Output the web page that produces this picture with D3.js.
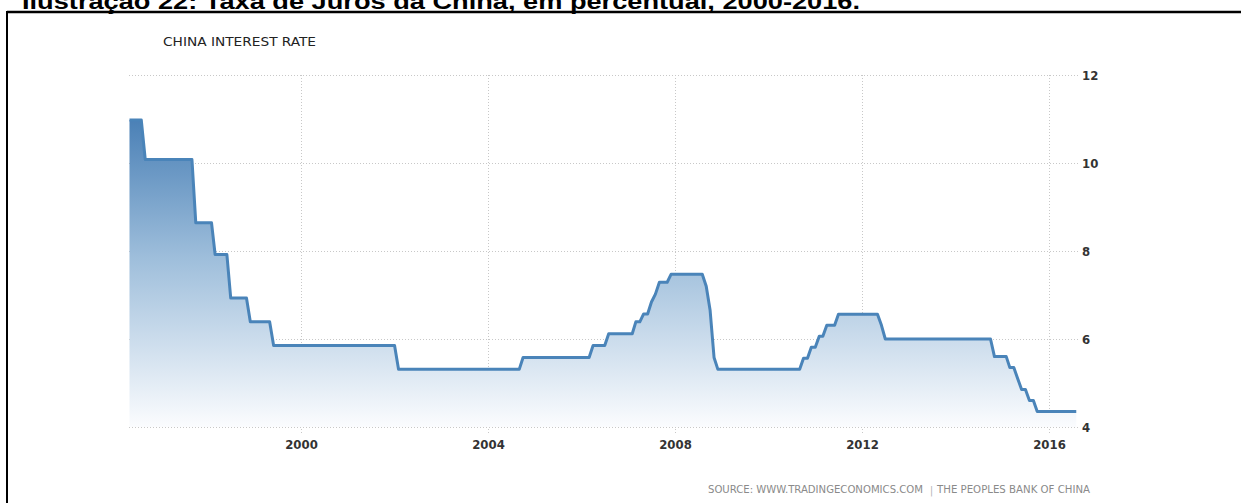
<!DOCTYPE html>
<html>
<head>
<meta charset="utf-8">
<script src="https://cdn.jsdelivr.net/npm/d3@7"></script>
<style>
  html, body { margin: 0; padding: 0; background: #fff; }
  svg { display: block; }
</style>
</head>
<body>
<svg id="chart" width="1241" height="503"></svg>
<script>
// ---- DATA ----
const docTitle = "Ilustração 22: Taxa de Juros da China, em percentual, 2000-2016.";
const chartTitle = "CHINA INTEREST RATE";
const sourceLeft = "SOURCE: WWW.TRADINGECONOMICS.COM";
const sourceRight = "THE PEOPLES BANK OF CHINA";
// month in which a new rate first shows on the chart, and the rate
const changeMonths = ["1996-05","1996-09","1997-10","1998-03","1998-07","1998-12","1999-06",
  "2002-02","2004-10","2006-04","2006-08","2007-03","2007-05","2007-07","2007-08","2007-09",
  "2007-12","2008-09","2008-10","2008-11","2008-12","2010-10","2010-12","2011-02","2011-04",
  "2011-07","2012-06","2012-07","2014-11","2015-03","2015-05","2015-06","2015-08","2015-10"];
const changeRates = [10.98,10.08,8.64,7.92,6.93,6.39,5.85,
  5.31,5.58,5.85,6.12,6.39,6.57,6.84,7.02,7.29,
  7.47,7.20,6.66,5.58,5.31,5.56,5.81,6.06,6.31,
  6.56,6.31,6.00,5.60,5.35,5.10,4.85,4.60,4.35];
const lastMonth = "2016-08";
const yTicks = [4, 6, 8, 10, 12];
const xTickYears = [2000, 2004, 2008, 2012, 2016];

// ---- build monthly series (rate in effect each month) ----
const parseM = d3.timeParse("%Y-%m");
const changes = changeMonths.map((m, i) => ({ date: parseM(m), value: changeRates[i] }));
const months = d3.timeMonth.range(changes[0].date, d3.timeMonth.offset(parseM(lastMonth), 1));
const series = months.map(dt => {
  let v = changes[0].value;
  for (const c of changes) { if (c.date <= dt) v = c.value; }
  return { date: dt, value: v };
});

// ---- layout ----
const svg = d3.select("#chart");
const x = d3.scaleTime()
  .domain([new Date(2000, 0, 1), new Date(2016, 0, 1)])
  .range([301, 1049]);
const y = d3.scaleLinear().domain([4, 12]).range([427, 75]);
const plotLeft = 129, plotRight = 1078;

// frame
svg.append("line").attr("x1", 7).attr("x2", 1241).attr("y1", 12).attr("y2", 12)
  .attr("stroke", "#000").attr("stroke-width", 2.5);
svg.append("line").attr("x1", 7).attr("x2", 7).attr("y1", 11).attr("y2", 503)
  .attr("stroke", "#000").attr("stroke-width", 2);

// document title (cut at top)
const dt = svg.append("text").attr("x", 22).attr("y", 9)
  .attr("font-family", "Liberation Sans, Arial, sans-serif")
  .attr("font-weight", "bold").attr("font-size", 22).attr("fill", "#000")
  .text(docTitle);
dt.attr("textLength", 838).attr("lengthAdjust", "spacingAndGlyphs");

// chart title
svg.append("text").attr("x", 163).attr("y", 46)
  .attr("font-family", "DejaVu Sans Condensed, DejaVu Sans, sans-serif")
  .attr("font-stretch", "condensed")
  .attr("font-size", 13).attr("fill", "#222")
  .attr("textLength", 153).attr("lengthAdjust", "spacingAndGlyphs")
  .text(chartTitle);

// gridlines
const grid = svg.append("g");
grid.selectAll("line.h").data(yTicks).join("line")
  .attr("x1", plotLeft).attr("x2", plotRight)
  .attr("y1", d => y(d) + 0.5).attr("y2", d => y(d) + 0.5)
  .attr("stroke", "#c8c8c8").attr("stroke-width", 1).attr("stroke-dasharray", "1,2");
grid.selectAll("line.v").data(xTickYears).join("line")
  .attr("x1", d => Math.round(x(new Date(d, 0, 1))) + 0.5)
  .attr("x2", d => Math.round(x(new Date(d, 0, 1))) + 0.5)
  .attr("y1", 75).attr("y2", 433)
  .attr("stroke", "#c8c8c8").attr("stroke-width", 1).attr("stroke-dasharray", "1,2");

// gradient
const defs = svg.append("defs");
const grad = defs.append("linearGradient").attr("id", "fillGrad")
  .attr("gradientUnits", "userSpaceOnUse")
  .attr("x1", 0).attr("x2", 0).attr("y1", y(11)).attr("y2", y(4));
grad.append("stop").attr("offset", 0).attr("stop-color", "#4a80b6");
grad.append("stop").attr("offset", 0.45).attr("stop-color", "#9ebedb");
grad.append("stop").attr("offset", 1).attr("stop-color", "#fbfcfe");

// area + line
const area = d3.area().x(d => x(d.date)).y0(y(4)).y1(d => y(d.value));
const line = d3.line().x(d => x(d.date)).y(d => y(d.value));
svg.append("path").datum(series).attr("d", area).attr("fill", "url(#fillGrad)");
svg.append("path").datum(series).attr("d", line)
  .attr("fill", "none").attr("stroke", "#4a84b9").attr("stroke-width", 3)
  .attr("stroke-linejoin", "round");

// y axis labels (right)
const yAxis = d3.axisRight(y).tickValues(yTicks).tickSize(0).tickPadding(0);
const yg = svg.append("g").attr("transform", `translate(1082,0)`).call(yAxis);
yg.select(".domain").remove();
yg.selectAll("text")
  .attr("font-family", "DejaVu Sans Condensed, DejaVu Sans, sans-serif")
  .attr("font-stretch", "condensed")
  .attr("font-weight", "bold").attr("font-size", 13).attr("fill", "#333");

// x axis labels
const xAxis = d3.axisBottom(x).tickValues(xTickYears.map(d => new Date(d, 0, 1)))
  .tickFormat(d3.timeFormat("%Y")).tickSize(0).tickPadding(0);
const xg = svg.append("g").attr("transform", `translate(0,440)`).call(xAxis);
xg.select(".domain").remove();
xg.selectAll("text")
  .attr("font-family", "DejaVu Sans Condensed, DejaVu Sans, sans-serif")
  .attr("font-stretch", "condensed")
  .attr("font-weight", "bold").attr("font-size", 13).attr("fill", "#333");

// source
const src = svg.append("g")
  .attr("font-family", "DejaVu Sans Condensed, DejaVu Sans, sans-serif")
  .attr("font-stretch", "condensed").attr("font-size", 10);
src.append("text").attr("x", 708).attr("y", 493).attr("fill", "#8a8a8a")
  .attr("textLength", 215).attr("lengthAdjust", "spacingAndGlyphs").text(sourceLeft);
src.append("text").attr("x", 930).attr("y", 494).attr("fill", "#b0b0b0").text("|");
src.append("text").attr("x", 937).attr("y", 493).attr("fill", "#8a8a8a")
  .attr("textLength", 153).attr("lengthAdjust", "spacingAndGlyphs").text(sourceRight);
</script>
</body>
</html>
